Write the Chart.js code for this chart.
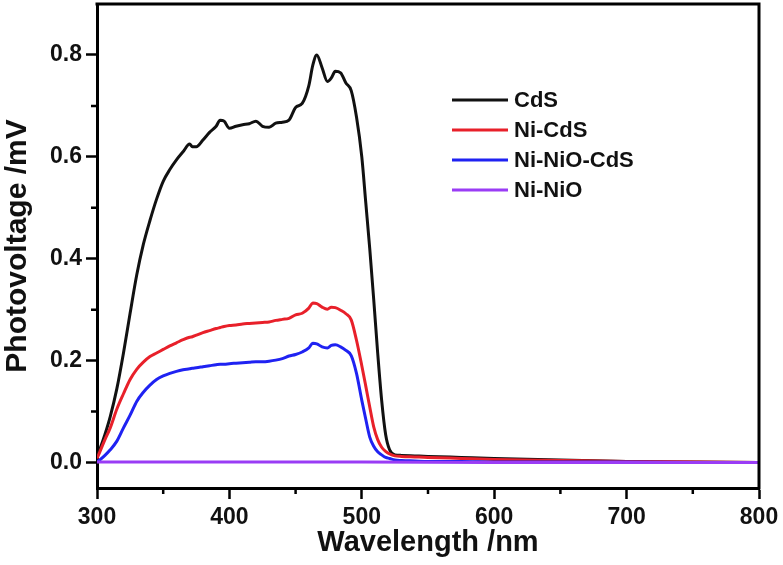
<!DOCTYPE html>
<html>
<head>
<meta charset="utf-8">
<script src="https://cdn.jsdelivr.net/npm/chart.js@4"></script>
<style>
  body { margin: 0; background: #fff; }
  #wrap { width: 783px; height: 565px; }
</style>
</head>
<body>
<div id="wrap"><canvas id="spvChart" width="783" height="565"></canvas></div>
<script>
"use strict";

// wavelength grid (nm) shared by the three CdS-based curves
var wavelength = [300, 302, 306, 310, 315, 320, 325, 330, 335, 340,
    345, 350, 355, 360, 365, 370, 372, 375, 380, 385,
    390, 393, 396, 400, 405, 410, 415, 420, 425, 430,
    435, 440, 445, 450, 455, 460, 463, 466, 470, 474,
    477, 480, 484, 488, 492, 496, 500, 503, 506, 509,
    512, 515, 518, 521, 525, 530, 540, 550, 575, 600,
    650, 700, 750, 800];

var cds = [0.012, 0.025, 0.055, 0.090, 0.145, 0.215, 0.293, 0.368, 0.428, 0.475,
    0.517, 0.552, 0.575, 0.594, 0.610, 0.625, 0.620, 0.620, 0.633, 0.648,
    0.660, 0.672, 0.670, 0.656, 0.660, 0.663, 0.665, 0.670, 0.660, 0.658,
    0.666, 0.668, 0.672, 0.697, 0.705, 0.740, 0.780, 0.800, 0.775, 0.748,
    0.755, 0.768, 0.765, 0.745, 0.730, 0.678, 0.600, 0.510, 0.420, 0.320,
    0.215, 0.122, 0.055, 0.025, 0.015, 0.014, 0.013, 0.012, 0.010, 0.008,
    0.005, 0.002, 0.001, 0.000];

var niCds = [0.008, 0.020, 0.045, 0.068, 0.105, 0.135, 0.163, 0.183, 0.197, 0.208,
    0.215, 0.222, 0.229, 0.235, 0.241, 0.246, 0.247, 0.250, 0.255, 0.259,
    0.263, 0.265, 0.267, 0.269, 0.270, 0.272, 0.273, 0.274, 0.275, 0.276,
    0.279, 0.281, 0.283, 0.290, 0.293, 0.303, 0.313, 0.312, 0.305, 0.301,
    0.305, 0.304, 0.299, 0.292, 0.280, 0.240, 0.190, 0.150, 0.109, 0.070,
    0.045, 0.030, 0.022, 0.017, 0.013, 0.012, 0.011, 0.010, 0.008, 0.006,
    0.004, 0.002, 0.001, 0.000];

var niNioCds = [0.002, 0.005, 0.014, 0.025, 0.042, 0.068, 0.093, 0.120, 0.138, 0.152,
    0.163, 0.170, 0.175, 0.179, 0.182, 0.184, 0.185, 0.186, 0.188, 0.190,
    0.192, 0.193, 0.193, 0.194, 0.195, 0.196, 0.197, 0.198, 0.198, 0.199,
    0.201, 0.204, 0.209, 0.212, 0.217, 0.225, 0.234, 0.233, 0.227, 0.225,
    0.230, 0.231, 0.227, 0.220, 0.210, 0.175, 0.122, 0.085, 0.050, 0.032,
    0.021, 0.015, 0.010, 0.008, 0.005, 0.004, 0.003, 0.002, 0.002, 0.001,
    0.001, 0.001, 0.000, 0.000];

// Ni-NiO stays flat on the baseline
var niNioWl = [300, 400, 500, 600, 700, 800];
var niNio = [0.001, 0.001, 0.001, 0.000, 0.000, 0.000];

var seriesNames = ['CdS', 'Ni-CdS', 'Ni-NiO-CdS', 'Ni-NiO'];
var seriesColors = ['#111111', '#e8202a', '#1f22f2', '#9a3cf5'];

var xTicks = [300, 400, 500, 600, 700, 800];
var xMinorTicks = [350, 450, 550, 650, 750];
var yTicks = [0.0, 0.2, 0.4, 0.6, 0.8];
var yMinorTicks = [0.1, 0.3, 0.5, 0.7];

var FONT = 'Arial, "Liberation Sans", sans-serif';

function pairs(xs, ys) {
    return xs.map(function(x, i) { return { x: x, y: ys[i] }; });
}

var curves = [
    pairs(wavelength, cds),
    pairs(wavelength, niCds),
    pairs(wavelength, niNioCds),
    pairs(niNioWl, niNio)
];

// frame on top/right, minor ticks and the in-plot legend
var framePlugin = {
    id: 'frame',
    afterDraw: function(chart) {
        var ctx = chart.ctx;
        var a = chart.chartArea;
        var xs = chart.scales.x;
        var ys = chart.scales.y;
        ctx.save();
        ctx.strokeStyle = '#000';
        ctx.lineWidth = 3;
        ctx.beginPath();
        ctx.moveTo(a.left - 1.5, a.top);
        ctx.lineTo(a.right, a.top);
        ctx.lineTo(a.right, a.bottom + 1.5);
        ctx.stroke();

        ctx.lineWidth = 2.5;
        ctx.beginPath();
        xMinorTicks.forEach(function(v) {
            var px = xs.getPixelForValue(v);
            ctx.moveTo(px, a.bottom);
            ctx.lineTo(px, a.bottom + 6);
        });
        yMinorTicks.forEach(function(v) {
            var py = ys.getPixelForValue(v);
            ctx.moveTo(a.left, py);
            ctx.lineTo(a.left - 6, py);
        });
        ctx.stroke();

        // legend
        var lx = 452, ly = 100, gap = 30;
        ctx.font = 'bold 22px ' + FONT;
        ctx.textBaseline = 'middle';
        ctx.textAlign = 'left';
        seriesNames.forEach(function(name, i) {
            var y = ly + i * gap;
            ctx.strokeStyle = seriesColors[i];
            ctx.lineWidth = 3;
            ctx.beginPath();
            ctx.moveTo(lx, y);
            ctx.lineTo(lx + 56, y);
            ctx.stroke();
            ctx.fillStyle = '#111';
            ctx.fillText(name, lx + 62, y + 1);
        });
        ctx.restore();
    }
};

new Chart(document.getElementById('spvChart').getContext('2d'), {
    type: 'line',
    data: {
        datasets: curves.map(function(pts, i) {
            return {
                label: seriesNames[i],
                data: pts,
                borderColor: seriesColors[i],
                backgroundColor: seriesColors[i],
                borderWidth: 3,
                pointRadius: 0,
                fill: false,
                cubicInterpolationMode: 'monotone',
                order: i === 3 ? 0 : 4 - i
            };
        })
    },
    options: {
        responsive: false,
        animation: false,
        layout: { padding: { top: 4, right: 24, left: 0, bottom: 0 } },
        plugins: {
            legend: { display: false },
            tooltip: { enabled: false }
        },
        scales: {
            x: {
                type: 'linear',
                min: 300,
                max: 800,
                afterBuildTicks: function(scale) {
                    scale.ticks = xTicks.map(function(v) { return { value: v }; });
                },
                afterFit: function(scale) {
                    scale.height = 77;
                    scale.paddingLeft = 0;
                    scale.paddingRight = 0;
                },
                border: { display: true, color: '#000', width: 3 },
                grid: { display: true, drawOnChartArea: false, drawTicks: true, tickLength: 11, tickColor: '#000', tickWidth: 2.5 },
                ticks: {
                    color: '#111',
                    padding: 5,
                    maxRotation: 0,
                    font: { family: FONT, size: 23, weight: 'bold' },
                    callback: function(v) { return v; }
                },
                title: {
                    display: true,
                    text: 'Wavelength /nm',
                    color: '#111',
                    padding: { top: 0, bottom: 5 },
                    font: { family: FONT, size: 29, weight: 'bold' }
                }
            },
            y: {
                min: -0.05,
                max: 0.9,
                afterBuildTicks: function(scale) {
                    scale.ticks = yTicks.map(function(v) { return { value: v }; });
                },
                afterFit: function(scale) {
                    scale.width = 97;
                    scale.paddingTop = 0;
                    scale.paddingBottom = 0;
                },
                border: { display: true, color: '#000', width: 3 },
                grid: { display: true, drawOnChartArea: false, drawTicks: true, tickLength: 11, tickColor: '#000', tickWidth: 2.5 },
                ticks: {
                    color: '#111',
                    padding: 4,
                    font: { family: FONT, size: 23, weight: 'bold' },
                    callback: function(v) { return v.toFixed(1); }
                },
                title: {
                    display: true,
                    text: 'Photovoltage /mV',
                    color: '#111',
                    padding: { top: 0, bottom: 0 },
                    font: { family: FONT, size: 30, weight: 'bold' }
                }
            }
        }
    },
    plugins: [framePlugin]
});
</script>
</body>
</html>
